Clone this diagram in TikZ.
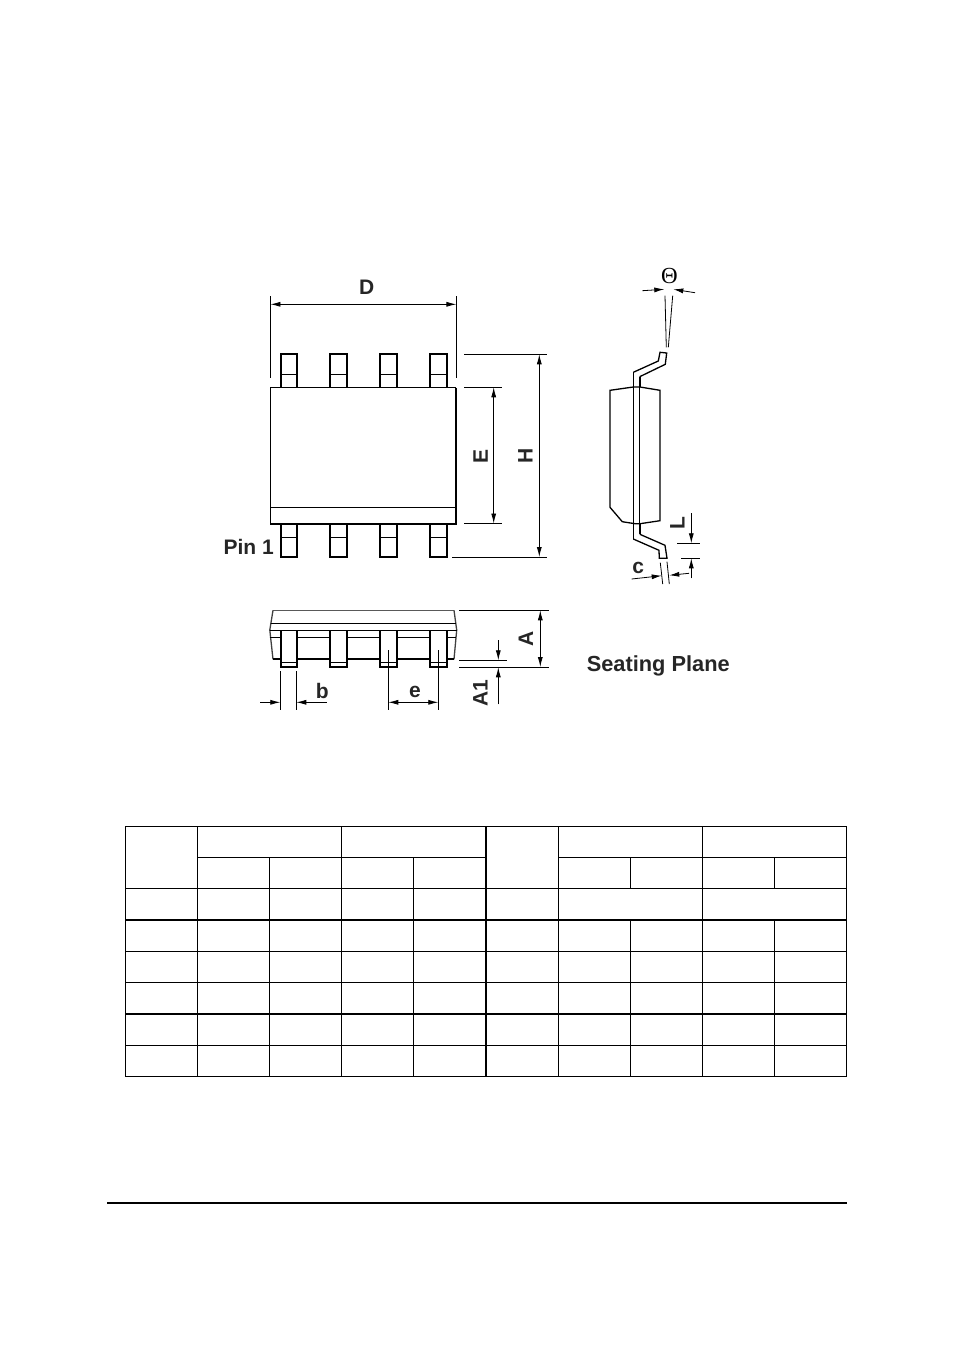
\documentclass[tikz,border=0pt]{standalone}
\usepackage{fontspec}
\setmainfont{Liberation Sans}
\newfontfamily\thetafont{Liberation Serif}
\usetikzlibrary{arrows.meta}
\tikzset{
  part/.style={line width=1.3pt,black},
  heavy/.style={line width=2pt,black},
  thin part/.style={line width=0.9pt,black},
  dim/.style={line width=0.8pt,black},
  dimtip/.style={dim,{Latex[length=10pt,width=5pt]}-{Latex[length=10pt,width=5pt]}},
  endtip/.style={dim,-{Latex[length=10pt,width=5pt]}},
  lab/.style={font=\bfseries\fontsize{21}{21}\selectfont,inner sep=0pt,text=black!85},
  grid/.style={line width=1.1pt,black},
  gridb/.style={line width=2.2pt,black},
}
\begin{document}
\begin{tikzpicture}[x=1pt,y=-1pt]
\useasboundingbox (0,0) rectangle (954,1350);
% ---- top view
\foreach \x in {280.7,329.9,379.9,429.9}{
  \draw[heavy] (\x,387.3) -- (\x,354) -- (\x+16.6,354) -- (\x+16.6,387.3);
  \draw[thin part] (\x,374.3) -- (\x+16.6,374.3);
  \draw[heavy] (\x,524) -- (\x,557) -- (\x+16.6,557) -- (\x+16.6,524);
  \draw[thin part] (\x,537) -- (\x+16.6,537);
}
\draw[part] (270.4,524) -- (270.4,387.5) -- (456,387.5);
\draw[heavy] (456,387.5) -- (456,524) -- (270.4,524);
\draw[thin part] (270.4,507.3) -- (456,507.3);
% D
\draw[dim] (270.4,296) -- (270.4,378.3);
\draw[dim] (456.4,296) -- (456.4,378.3);
\draw[dimtip] (270.4,304.3) -- (456.4,304.3);
\node[lab] (labD) at (366.7,287.5) {D};
% E
\draw[dim] (464,387.3) -- (501.7,387.3);
\draw[dim] (464,523.5) -- (501.7,523.5);
\draw[dimtip] (493.7,387.3) -- (493.7,523.5);
\node[lab,rotate=90] (labE) at (480.7,456.5) {E};
% H
\draw[dim] (464,354.3) -- (546.7,354.3);
\draw[dim] (452,557) -- (546.7,557);
\draw[dimtip] (539.3,354.3) -- (539.3,557);
\node[lab,rotate=90] (labH) at (525.3,455.7) {H};
\node[lab,anchor=east] (labPin) at (274,547) {Pin 1};
% ---- side view
\draw[part] (610,390.3) -- (633.3,387) -- (640,387) -- (660,390.3) -- (660,520.7)
  -- (640,523.7) -- (635,523.7) -- (622.3,521.7) -- (610,507.3) -- cycle;
\draw[thin part] (633.3,539) -- (633.3,372.3);
\draw[thin part] (639.7,534.3) -- (639.7,376.7);
\draw[part] (633.3,372.3) -- (658.3,361) -- (660,352.3) -- (666.7,353) -- (665.3,364.3) -- (639.7,376.7);
\draw[heavy] (639.7,376.7) -- (639.7,387);
\draw[heavy] (639.9,523.7) -- (639.9,534.3);
\draw[part] (639.9,534.3) -- (665,545.3) -- (667,558.3) -- (659.3,558.3) -- (659,550.3) -- (633.3,539);
% theta
\node[font=\thetafont\fontsize{23}{23}\selectfont,inner sep=0pt] (labTheta) at (669.3,276) {Θ};
\draw[endtip] (642.3,290.7) -- (664.3,289.3);
\draw[endtip] (695,292.7) -- (673.3,289.3);
\draw[dim] (665,295.7) -- (666.3,347.3);
\draw[dim] (672.7,295.7) -- (668.3,347.3);
% L
\node[lab,rotate=90] (labL) at (677.3,522.7) {L};
\draw[endtip] (691.3,513.3) -- (691.3,543.3);
\draw[endtip] (691.3,578.3) -- (691.3,558.3);
\draw[dim] (677.3,543.3) -- (699.7,543.3);
\draw[dim] (681.3,558.3) -- (699.7,558.3);
% c
\node[lab] (labc) at (638.3,568) {c};
\draw[dim] (660.3,562.7) -- (662.7,584);
\draw[dim] (667,561.7) -- (669.3,584);
\draw[endtip] (631.7,579) -- (661.7,575.7);
\draw[endtip] (689,573.3) -- (669.3,575.3);
% ---- front view
\draw[line width=1.1pt,black!65] (273,610.3) -- (454,610.3);
\draw[line width=1.3pt,black!75] (273,610.3) -- (269.8,630) -- (273,659.3);
\draw[line width=1.3pt,black!75] (454,610.3) -- (456.7,630) -- (454,659.3);
\draw[thin part] (270.7,623.3) -- (456.2,623.3);
\draw[thin part] (270.3,637.3) -- (456.4,637.3);
\draw[thin part] (270,630.4) -- (456.6,630.4);
\draw[heavy] (273,659.3) -- (454,659.3);
\foreach \x in {280.7,329.9,379.9,429.9}{
  \fill[white] (\x,631) rectangle (\x+16.6,667);
  \draw[heavy] (\x,630.4) -- (\x,667) -- (\x+16.6,667) -- (\x+16.6,630.4);
  \draw[thin part] (\x,662.6) -- (\x+16.6,662.6);
}
% b
\draw[dim] (280.3,671) -- (280.3,709.7);
\draw[dim] (296.3,671) -- (296.3,709.7);
\draw[endtip] (260,702.3) -- (280.3,702.3);
\draw[endtip] (326.7,702.3) -- (296.3,702.3);
\node[lab] (labb) at (322.3,690.7) {b};
% e
\draw[dim] (388.3,650) -- (388.3,709.7);
\draw[dim] (438.3,650) -- (438.3,709.7);
\draw[dimtip] (388.3,702.3) -- (438.3,702.3);
\node[lab] (labe) at (415,691.7) {e};
% A
\draw[dim] (459,610.3) -- (549,610.3);
\draw[dim] (459,667) -- (549,667);
\draw[dimtip] (540.3,610.3) -- (540.3,667);
\node[lab,rotate=90] (labA) at (526,639) {A};
% A1
\draw[dim] (459,660.3) -- (507,660.3);
\draw[endtip] (498.3,640) -- (498.3,660.3);
\draw[endtip] (498.3,704.3) -- (498.3,667.3);
\node[lab,rotate=90] (labAone) at (480.5,693.3) {A1};
\node[lab,font=\bfseries\fontsize{21.8}{21.8}\selectfont] (labSeat) at (658.3,665.5) {Seating Plane};
% ---- table
\foreach \y in {826.5,888.3,951.3,982.3,1045.3,1076.4}{
  \draw[grid] (125.7,\y) -- (846.6,\y);
}
\foreach \y in {919.7,1013.7}{
  \draw[gridb] (125.7,\y) -- (846.6,\y);
}
\draw[grid] (197.3,857.3) -- (486,857.3);
\draw[grid] (558.7,857.3) -- (846.6,857.3);
\foreach \x in {125.7,197.3,341.3,558.7,702.3,846.3}{
  \draw[grid] (\x,826) -- (\x,1076.9);
}
\foreach \x in {269.3,413.7}{
  \draw[grid] (\x,857.3) -- (\x,1076.4);
}
\foreach \x in {630.3,774.3}{
  \draw[grid] (\x,857.3) -- (\x,888.3);
  \draw[grid] (\x,919.7) -- (\x,1076.4);
}
\draw[gridb] (486,826.5) -- (486,1076.4);
% rule
\draw[line width=2pt,black] (107,1203) -- (847,1203);
\end{tikzpicture}
\end{document}
